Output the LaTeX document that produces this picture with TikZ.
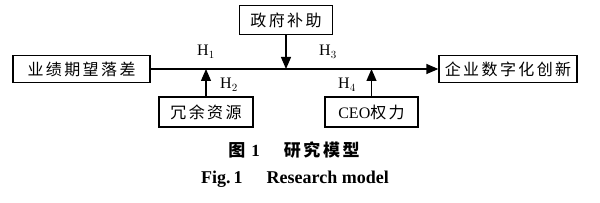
\documentclass[tikz,border=0pt]{standalone}
\usepackage{fontspec}
\setmainfont{Liberation Serif}
\newfontfamily\cjk[LetterSpace=15]{Noto Sans CJK SC}
\newfontfamily\cjkbold[LetterSpace=15]{Noto Sans CJK SC Bold}
\usetikzlibrary{arrows.meta, positioning}

\begin{document}
\begin{tikzpicture}[x=1pt, y=-1pt,
    var/.style={rectangle, draw=black, line width=1.3pt, fill=white, minimum height=27pt, inner sep=1pt, font=\fontsize{16}{18}\selectfont\cjk},
    arrow/.style={-{Triangle[length=12pt, width=10pt]}, line width=1.3pt, color=black},
    hlabel/.style={font=\fontsize{16}{18}\selectfont, inner sep=0pt}
]
\useasboundingbox (0,0) rectangle (600,203);
% variables
\node[var, minimum width=137pt] (gap) at (81.5,69) {业绩期望落差};
\node[var, minimum width=138pt] (innov) at (508,69) {企业数字化创新};
\node[var, minimum width=93pt, minimum height=29pt] (gov) at (286,20) {政府补助};
\node[var, minimum width=94pt, minimum height=30pt] (slack) at (206,112) {冗余资源};
\node[var, minimum width=93pt, minimum height=30pt] (ceo) at (371.5,112) {{\rmfamily CEO}权力};
% points on the main path
\coordinate (p1) at (slack.north |- gap.east);
\coordinate (p2) at (gov.south |- gap.east);
\coordinate (p3) at (ceo.north |- gap.east);
\draw[arrow] (gap) -- (innov);
\draw[arrow] (slack) -- (p1);
\draw[arrow] (gov) -- (p2);
\draw[arrow] (ceo) -- (p3);
% hypotheses
\node[hlabel] (h1) at (206,52) {H$_1$};
\node[hlabel] (h2) at (229,85) {H$_2$};
\node[hlabel] (h3) at (328,52) {H$_3$};
\node[hlabel] (h4) at (347,85) {H$_4$};
% caption
\node[font=\fontsize{17}{19}\selectfont\bfseries] (cap) at (294,150) {{\cjkbold 图}\hspace{6pt}1\hspace{24pt}{\cjkbold 研究模型}};
\node[font=\fontsize{18}{20}\selectfont\bfseries] (fig) at (295,179) {Fig.\,1\hspace{24pt}Research model};
\end{tikzpicture}
\end{document}
